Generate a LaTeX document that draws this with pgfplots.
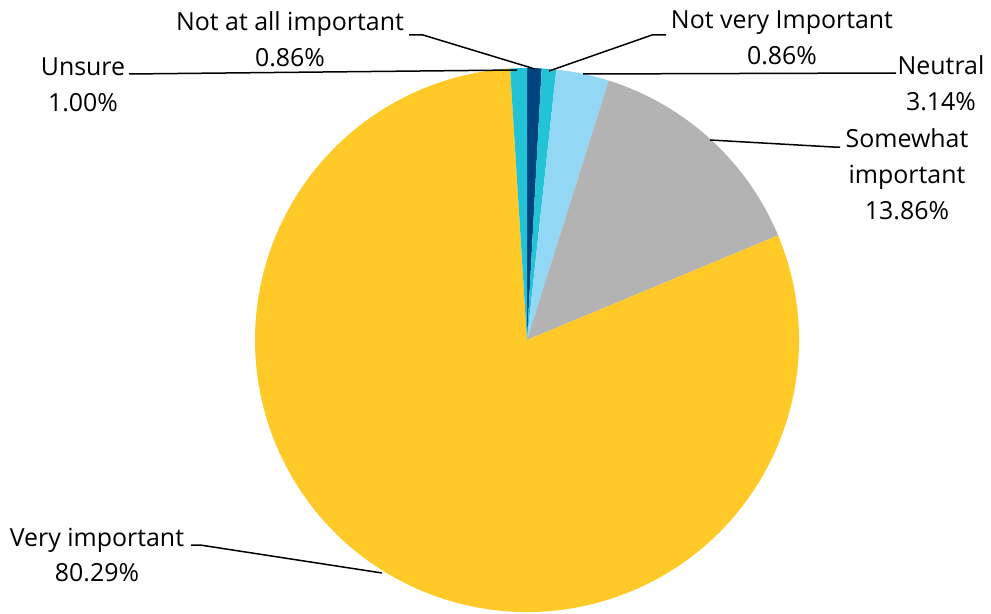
\documentclass[border=0pt]{standalone}
\usepackage{pgfplots}
\pgfplotsset{compat=1.18}
\usepackage{pgfplotstable}
\usepackage{fontspec}
\setmainfont{Open Sans}
\definecolor{cDark}{HTML}{00437F}
\definecolor{cTeal}{HTML}{22C3D6}
\definecolor{cLight}{HTML}{92D7F3}
\definecolor{cGray}{HTML}{B3B3B3}
\definecolor{cYellow}{HTML}{FFCA28}

\pgfplotstableread{
idx value
1 0.86
2 0.86
3 3.14
4 13.86
5 80.29
6 1.00
}\piedata

\begin{document}
\begin{tikzpicture}
\pgfplotstablegetelem{0}{value}\of\piedata \let\vA\pgfplotsretval
\pgfplotstablegetelem{1}{value}\of\piedata \let\vB\pgfplotsretval
\pgfplotstablegetelem{2}{value}\of\piedata \let\vC\pgfplotsretval
\pgfplotstablegetelem{3}{value}\of\piedata \let\vD\pgfplotsretval
\pgfplotstablegetelem{4}{value}\of\piedata \let\vE\pgfplotsretval
\pgfplotstablegetelem{5}{value}\of\piedata \let\vF\pgfplotsretval
\pgfmathsetmacro\aA{90}
\pgfmathsetmacro\aB{\aA-3.6*\vA}
\pgfmathsetmacro\aC{\aB-3.6*\vB}
\pgfmathsetmacro\aD{\aC-3.6*\vC}
\pgfmathsetmacro\aE{\aD-3.6*\vD}
\pgfmathsetmacro\aF{\aE-3.6*\vE}
\pgfmathsetmacro\aG{\aF-3.6*\vF}
\begin{axis}[
  width=991bp, height=614bp, scale only axis,
  xmin=0, xmax=991, ymin=0, ymax=614, y dir=reverse,
  hide axis, clip=false,
]
\def\R{272bp}
\fill[cDark]   (axis cs:527,340) -- ++(\aA:\R) arc[start angle=\aA, end angle=\aB, radius=\R] -- cycle;
\fill[cTeal]   (axis cs:527,340) -- ++(\aB:\R) arc[start angle=\aB, end angle=\aC, radius=\R] -- cycle;
\fill[cLight]  (axis cs:527,340) -- ++(\aC:\R) arc[start angle=\aC, end angle=\aD, radius=\R] -- cycle;
\fill[cGray]   (axis cs:527,340) -- ++(\aD:\R) arc[start angle=\aD, end angle=\aE, radius=\R] -- cycle;
\fill[cYellow] (axis cs:527,340) -- ++(\aE:\R) arc[start angle=\aE, end angle=\aF, radius=\R] -- cycle;
\fill[cTeal]   (axis cs:527,340) -- ++(\aF:\R) arc[start angle=\aF, end angle=\aG, radius=\R] -- cycle;

\tikzset{lead/.style={draw=black, line width=1.5bp}}
\draw[lead] (axis cs:409,35) -- (axis cs:423,35) -- (axis cs:535,69);
\draw[lead] (axis cs:549,71) -- (axis cs:652,35) -- (axis cs:666,35);
\draw[lead] (axis cs:583,74) -- (axis cs:896,73);
\draw[lead] (axis cs:710,140) -- (axis cs:833,147) -- (axis cs:840,147);
\draw[lead] (axis cs:129,74) -- (axis cs:517,70);
\draw[lead] (axis cs:191,545) -- (axis cs:200,545) -- (axis cs:382,573);

\tikzset{lab/.style={align=center, font=\fontsize{25}{36}\selectfont, inner sep=0pt, text=black}}
\node[lab] at (axis cs:290,39) {Not at all important\\0.86\%};
\node[lab] at (axis cs:782,38) {Not very Important\\0.86\%};
\node[lab] at (axis cs:941,83) {Neutral\\3.14\%};
\node[lab] at (axis cs:907,174) {Somewhat\\important\\13.86\%};
\node[lab] at (axis cs:83,85) {Unsure\\1.00\%};
\node[lab] at (axis cs:97,555) {Very important\\80.29\%};
\end{axis}
\pgfresetboundingbox
\useasboundingbox (current axis.south west) rectangle (current axis.north east);
\end{tikzpicture}
\end{document}
